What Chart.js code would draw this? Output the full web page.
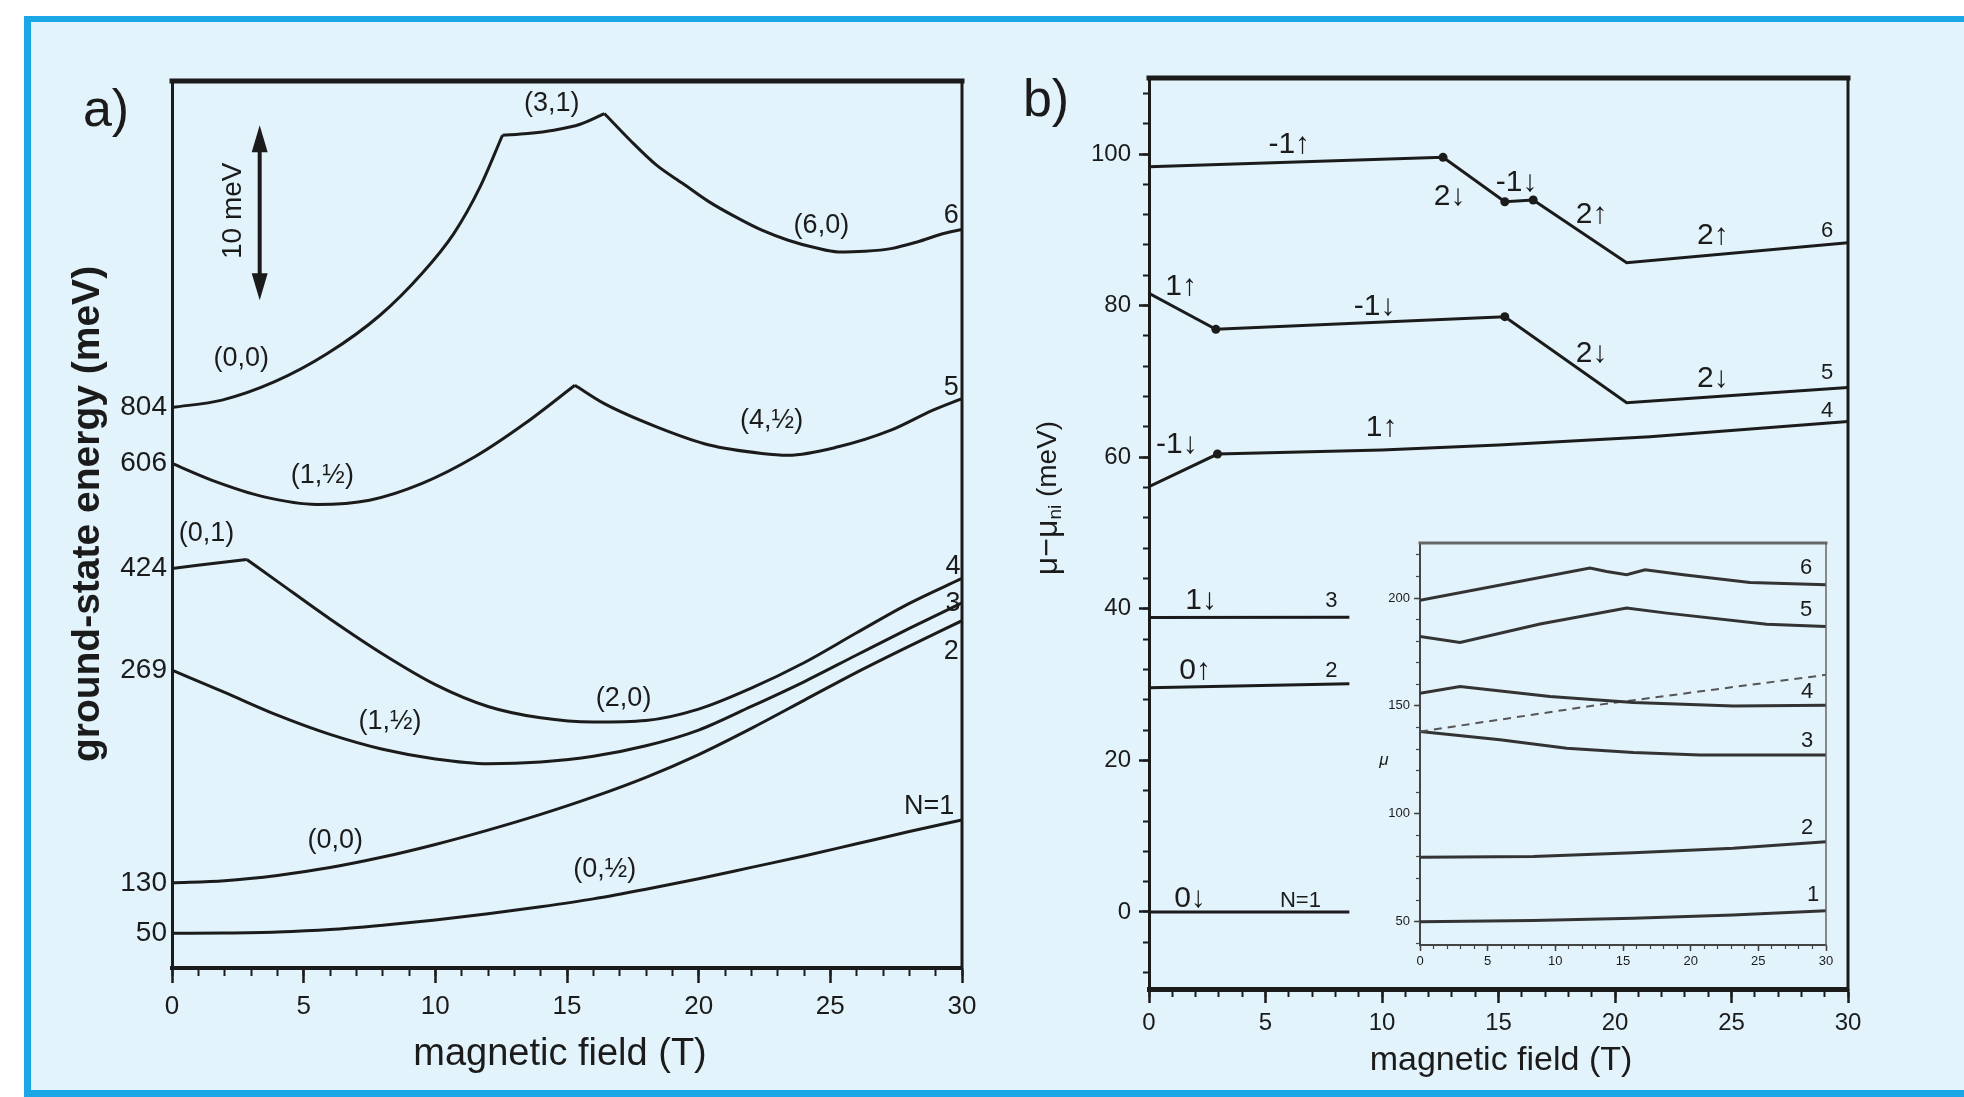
<!DOCTYPE html>
<html>
<head>
<meta charset="utf-8">
<title>Ground-state energy and chemical potential vs magnetic field</title>
<script src="https://cdn.jsdelivr.net/npm/chart.js@4.4.1/dist/chart.umd.min.js"></script>
<style>
  html, body { margin: 0; padding: 0; background: #ffffff; }
  body { width: 1964px; height: 1097px; position: relative; overflow: hidden; }
  #frame {
    position: absolute; left: 24px; top: 16px; width: 1940px; height: 1081px;
    box-sizing: border-box; background: #e2f3fb;
    border-left: 7px solid #1ba6e8; border-top: 6px solid #1ba6e8; border-bottom: 7px solid #1ba6e8;
  }
  canvas { position: absolute; }
  #panelA { left: 0; top: 0; }
  #panelB { left: 1000px; top: 0; }
  #inset { left: 1340px; top: 500px; }
</style>
</head>
<body>
<div id="frame"></div>
<canvas id="panelA" width="1000" height="1097"></canvas>
<canvas id="panelB" width="964" height="1097"></canvas>
<canvas id="inset" width="520" height="500"></canvas>
<script>
const INK = '#1b1b1b'
const FONT = '"Liberation Sans", Arial, sans-serif'

// ---- panel a: ground-state energy (meV, each N shifted), field in T ----
const fieldA = [0, 2, 4, 6, 8, 10, 12, 14, 16, 18, 20, 22, 24, 26, 28, 30]
const energyN1 = [1.98, 2.00, 2.06, 2.20, 2.45, 2.75, 3.10, 3.50, 3.95, 4.50, 5.10, 5.75, 6.40, 7.10, 7.80, 8.46]
const energyN2 = [4.87, 4.99, 5.29, 5.74, 6.34, 7.06, 7.88, 8.78, 9.78, 10.90, 12.20, 13.70, 15.30, 16.90, 18.40, 19.85]
const energyN3 = [17.03, 15.75, 14.45, 13.35, 12.50, 11.95, 11.68, 11.78, 12.10, 12.70, 13.60, 14.95, 16.36, 17.89, 19.41, 20.87]
// N=4: (0,1) then (2,0)
const fieldN4a = [0, 2.84]
const energyN4a = [22.84, 23.35]
const fieldN4b = [2.84, 4, 6, 8, 10, 12, 14, 16, 18, 20, 22, 24, 26, 28, 30]
const energyN4b = [23.35, 22.1, 19.95, 17.95, 16.2, 14.95, 14.3, 14.06, 14.15, 14.8, 16.0, 17.45, 19.16, 20.84, 22.27]
// N=5: (1,1/2) then (4,1/2)
const fieldN5a = [0, 1.5, 3.5, 5.5, 7.5, 9.5, 11.5, 13.4, 15.3]
const energyN5a = [28.84, 27.89, 26.93, 26.5, 26.74, 27.7, 29.22, 31.12, 33.31]
const fieldN5b = [15.3, 16.4, 18.4, 20.4, 22.4, 23.4, 25.3, 27.3, 28.9, 30]
const energyN5b = [33.31, 32.27, 30.93, 29.89, 29.41, 29.31, 29.79, 30.74, 31.89, 32.55]
// N=6: (0,0), (3,1), (6,0)
const fieldN6a = [0, 1.9, 3.9, 5.9, 7.9, 9.5, 10.7, 11.7, 12.55]
const energyN6a = [32.04, 32.46, 33.51, 35.12, 37.31, 39.71, 41.98, 44.65, 47.6]
const fieldN6b = [12.55, 13.5, 14.5, 15.5, 16.42]
const energyN6b = [47.6, 47.7, 47.89, 48.23, 48.84]
const fieldN6c = [16.42, 17.4, 18.4, 19.4, 20.4, 21.4, 22.4, 23.4, 24.4, 25.3, 26.3, 27.3, 28.3, 29.3, 30]
const energyN6c = [48.84, 47.31, 45.89, 44.84, 43.79, 42.93, 42.17, 41.6, 41.18, 40.93, 40.97, 41.12, 41.5, 41.98, 42.21]

const startEnergy = [1.98, 4.87, 17.03, 22.84, 28.84, 32.04]
const startLabel = ['50', '130', '269', '424', '606', '804']

const scaleBarField = 3.33
const scaleBarFrom = 38.17
const scaleBarSize = 10

const notesA = [
  ['(0,0)', 2.63, 34.86], ['(3,1)', 14.42, 49.43], ['(6,0)', 24.66, 42.46],
  ['6', 29.59, 43.03], ['5', 29.59, 33.2], ['(1,½)', 5.71, 28.17], ['(4,½)', 22.77, 31.31],
  ['(0,1)', 1.31, 24.86], ['(2,0)', 17.15, 15.43], ['(1,½)', 8.28, 14.06],
  ['(0,0)', 6.2, 7.31], ['(0,½)', 16.43, 5.6], ['N=1', 28.75, 9.2],
  ['4', 29.66, 22.97], ['3', 29.66, 20.86], ['2', 29.59, 18.06]
]

// ---- panel b: mu - mu_ni (meV) ----
const fieldB6 = [0, 12.62, 15.27, 16.49, 20.5, 30]
const muB6 = [98.33, 99.56, 93.71, 93.93, 85.66, 88.3]
const fieldB5 = [0, 2.87, 15.27, 20.5, 30]
const muB5 = [81.62, 76.87, 78.54, 67.2, 69.2]
const fieldB4 = [0, 2.94, 10, 15, 21.5, 30]
const muB4 = [56.1, 60.42, 60.95, 61.6, 62.7, 64.7]
const fieldBshort = [0, 8.6]
const muB3 = [38.85, 38.9]
const muB2 = [29.6, 30.1]
const muB1 = [0, 0]
const kinksB6 = [1, 2, 3]
const kinksB5 = [1, 2]
const kinksB4 = [1]

const spinNotesB = [
  ['-1↑', 6.02, 101.2], ['2↓', 12.9, 94.3], ['-1↓', 15.78, 96.2], ['2↑', 19.0, 92.0], ['2↑', 24.2, 89.2],
  ['1↑', 1.38, 82.5], ['-1↓', 9.68, 79.8], ['2↓', 19.0, 73.7], ['2↓', 24.2, 70.3],
  ['-1↓', 1.2, 61.6], ['1↑', 9.98, 63.9],
  ['1↓', 2.24, 41.0], ['0↑', 1.98, 31.8], ['0↓', 1.76, 1.7]
]
const indexNotesB = [
  ['6', 29.1, 89.8], ['5', 29.1, 71.1], ['4', 29.1, 66.1],
  ['3', 7.83, 41.0], ['2', 7.83, 31.8], ['N=1', 6.5, 1.45]
]

// ---- inset: mu ----
const insetField6 = [0, 12.56, 13.79, 15.27, 16.63, 19.46, 24.38, 30]
const insetMu6 = [198.9, 213.9, 212.3, 210.8, 213.1, 210.8, 207.2, 206.2]
const insetField5 = [0, 2.96, 8.87, 15.27, 18.23, 25.62, 30]
const insetMu5 = [182.2, 179.4, 188.0, 195.4, 193.0, 187.9, 186.8]
const insetField4 = [0, 2.96, 9.61, 15.76, 23.15, 30]
const insetMu4 = [155.9, 159.0, 154.4, 151.6, 150.0, 150.3]
const insetFieldDash = [0, 13.3, 30]
const insetMuDash = [138.1, 150.6, 164.4]
const insetField3 = [0, 5.91, 10.84, 15.76, 20.69, 30]
const insetMu3 = [138.1, 134.3, 130.4, 128.4, 127.3, 127.3]
const insetField12 = [0, 8.37, 15.76, 23.15, 30]
const insetMu2 = [79.9, 80.2, 82.0, 84.0, 87.1]
const insetMu1 = [50.0, 50.5, 51.6, 53.1, 55.1]
const insetNotes = [['6', 28.53, 214.1], ['5', 28.53, 194.6], ['4', 28.6, 156.7], ['3', 28.6, 133.9], ['2', 28.6, 93.6], ['1', 29.05, 62.4]]


function pts(xs, ys) {
  return xs.map((x, i) => ({ x: x, y: ys[i] }))
}

function smoothCurve(xs, ys) {
  return {
    data: pts(xs, ys), borderColor: INK, borderWidth: 3, pointRadius: 0,
    cubicInterpolationMode: 'monotone', xAxisID: 'x', yAxisID: 'y'
  }
}

function brokenLine(xs, ys, kinks, color, width) {
  return {
    data: pts(xs, ys), borderColor: color || INK, borderWidth: width || 3, tension: 0,
    pointRadius: xs.map((_, i) => (kinks || []).includes(i) ? 4.5 : 0),
    pointBackgroundColor: INK, pointBorderWidth: 0,
    xAxisID: 'x', yAxisID: 'y'
  }
}

// ticks on whole multiples of step inside [min, max]
function stepTicks(step) {
  return s => {
    const out = []
    for (let k = Math.ceil(s.min / step - 1e-9); k * step <= s.max + 1e-9; k++) {
      out.push({ value: k * step })
    }
    s.ticks = out
  }
}

const intLabel = v => String(Math.round(v))

// major + minor axis pair, minor one takes no room
function axes(o) {
  return {
    x: {
      type: 'linear', axis: 'x', position: 'bottom', weight: 1, min: o.xmin, max: o.xmax,
      afterBuildTicks: stepTicks(o.xstep),
      ticks: { callback: intLabel, color: INK, font: { family: FONT, size: o.xfont }, padding: o.xpad, maxRotation: 0, autoSkip: false },
      grid: { drawOnChartArea: false, tickLength: o.xtick, tickWidth: o.tickW, tickColor: o.axisColor },
      border: { color: o.axisColor, width: o.bottomW },
      afterFit: s => { s.height = o.xheight }
    },
    xm: {
      type: 'linear', axis: 'x', position: 'bottom', weight: 0, min: o.xmin, max: o.xmax,
      afterBuildTicks: stepTicks(o.xminor),
      ticks: { display: false },
      grid: { drawOnChartArea: false, tickLength: o.xtickMinor, tickWidth: o.tickW * 0.8, tickColor: o.axisColor },
      border: { display: false },
      afterFit: s => { s.height = 0 }
    },
    y: {
      type: 'linear', axis: 'y', position: 'left', weight: 1, min: o.ymin, max: o.ymax,
      afterBuildTicks: stepTicks(o.ystep),
      ticks: { callback: intLabel, color: INK, font: { family: FONT, size: o.yfont }, padding: o.ypad, autoSkip: false },
      grid: { drawOnChartArea: false, tickLength: o.ytick, tickWidth: o.tickW, tickColor: o.axisColor },
      border: { color: o.axisColor, width: o.leftW },
      afterFit: s => { s.width = o.ywidth }
    },
    ym: {
      type: 'linear', axis: 'y', position: 'left', weight: 0, min: o.ymin, max: o.ymax,
      afterBuildTicks: stepTicks(o.yminor),
      ticks: { display: false },
      grid: { drawOnChartArea: false, tickLength: o.ytickMinor, tickWidth: o.tickW * 0.8, tickColor: o.axisColor },
      border: { display: false },
      afterFit: s => { s.width = 0 }
    }
  }
}

function framePlugin(topW, rightW, color) {
  return {
    id: 'frameLines',
    afterDraw(chart) {
      const { ctx, chartArea: a } = chart
      ctx.save()
      ctx.strokeStyle = color
      ctx.lineCap = 'square'
      ctx.lineWidth = topW
      ctx.beginPath(); ctx.moveTo(a.left, a.top); ctx.lineTo(a.right, a.top); ctx.stroke()
      ctx.lineWidth = rightW
      ctx.beginPath(); ctx.moveTo(a.right, a.top); ctx.lineTo(a.right, a.bottom); ctx.stroke()
      ctx.restore()
    }
  }
}

function notesPlugin(id, notes, font) {
  return {
    id: id,
    afterDatasetsDraw(chart) {
      const { ctx, scales } = chart
      ctx.save()
      ctx.fillStyle = INK
      ctx.font = font
      ctx.textAlign = 'center'
      ctx.textBaseline = 'middle'
      notes.forEach(n => {
        ctx.fillText(n[0], scales.x.getPixelForValue(n[1]), scales.y.getPixelForValue(n[2]))
      })
      ctx.restore()
    }
  }
}

const baseOptions = {
  responsive: false, animation: false, devicePixelRatio: 1,
  plugins: { legend: { display: false }, tooltip: { enabled: false } },
  elements: { line: { fill: false } }
}

// ---------- panel a ----------
const decorA = {
  id: 'decorA',
  afterDraw(chart) {
    const { ctx, scales } = chart
    ctx.save()
    ctx.fillStyle = INK
    ctx.strokeStyle = INK
    ctx.textAlign = 'center'
    ctx.textBaseline = 'middle'
    ctx.font = `52px ${FONT}`
    ctx.fillText('a)', 106, 112)
    ctx.font = `38px ${FONT}`
    ctx.fillText('magnetic field (T)', 560, 1055)
    ctx.save()
    ctx.translate(88, 514)
    ctx.rotate(-Math.PI / 2)
    ctx.font = `bold 39px ${FONT}`
    ctx.fillText('ground-state energy (meV)', 0, 0)
    ctx.restore()

    // 10 meV scale bar
    const ax = scales.x.getPixelForValue(scaleBarField)
    const top = scales.y.getPixelForValue(scaleBarFrom + scaleBarSize)
    const bot = scales.y.getPixelForValue(scaleBarFrom)
    ctx.lineWidth = 4
    ctx.beginPath(); ctx.moveTo(ax, top + 20); ctx.lineTo(ax, bot - 20); ctx.stroke()
    ctx.beginPath(); ctx.moveTo(ax, top); ctx.lineTo(ax - 8, top + 27); ctx.lineTo(ax + 8, top + 27); ctx.closePath(); ctx.fill()
    ctx.beginPath(); ctx.moveTo(ax, bot); ctx.lineTo(ax - 8, bot - 27); ctx.lineTo(ax + 8, bot - 27); ctx.closePath(); ctx.fill()
    ctx.save()
    ctx.translate(ax - 26, (top + bot) / 2 - 2)
    ctx.rotate(-Math.PI / 2)
    ctx.font = `28px ${FONT}`
    ctx.fillText('10 meV', 0, 0)
    ctx.restore()
    ctx.restore()
  }
}

const scalesA = axes({
  xmin: 0, xmax: 30, xstep: 5, xminor: 1, xfont: 26, xpad: 8, xtick: 15, xtickMinor: 8, xheight: 90,
  ymin: 0, ymax: 50.7, ystep: 10, yminor: 10, yfont: 28, ypad: 5, ytick: 0, ytickMinor: 0, ywidth: 172,
  tickW: 2.5, axisColor: INK, bottomW: 4, leftW: 3
})
scalesA.y.afterBuildTicks = s => { s.ticks = startEnergy.map(v => ({ value: v })) }
scalesA.y.ticks.callback = (v, i) => startLabel[i]
scalesA.y.grid = { display: false, drawTicks: false }
scalesA.ym.display = false

new Chart(document.getElementById('panelA'), {
  type: 'line',
  data: {
    datasets: [
      smoothCurve(fieldA, energyN1), smoothCurve(fieldA, energyN2), smoothCurve(fieldA, energyN3),
      smoothCurve(fieldN4a, energyN4a), smoothCurve(fieldN4b, energyN4b),
      smoothCurve(fieldN5a, energyN5a), smoothCurve(fieldN5b, energyN5b),
      smoothCurve(fieldN6a, energyN6a), smoothCurve(fieldN6b, energyN6b), smoothCurve(fieldN6c, energyN6c)
    ]
  },
  options: Object.assign({}, baseOptions, {
    layout: { padding: { left: 0, top: 81, right: 38, bottom: 39 } },
    scales: scalesA
  }),
  plugins: [framePlugin(5, 3, INK), notesPlugin('notesA', notesA, `27px ${FONT}`), decorA]
})

// ---------- panel b ----------
const decorB = {
  id: 'decorB',
  afterDraw(chart) {
    const ctx = chart.ctx
    ctx.save()
    ctx.fillStyle = INK
    ctx.textAlign = 'center'
    ctx.textBaseline = 'middle'
    ctx.font = `52px ${FONT}`
    ctx.fillText('b)', 46, 102)
    ctx.font = `34px ${FONT}`
    ctx.fillText('magnetic field (T)', 501, 1061)

    ctx.translate(48, 498)
    ctx.rotate(-Math.PI / 2)
    const parts = [['μ−μ', `32px ${FONT}`, 0], ['ni', `19px ${FONT}`, 8], [' (meV)', `28px ${FONT}`, 0]]
    let total = 0
    parts.forEach(p => { ctx.font = p[1]; total += ctx.measureText(p[0]).width })
    let px = -total / 2
    ctx.textAlign = 'left'
    parts.forEach(p => {
      ctx.font = p[1]
      ctx.fillText(p[0], px, p[2])
      px += ctx.measureText(p[0]).width
    })
    ctx.restore()
  }
}

new Chart(document.getElementById('panelB'), {
  type: 'line',
  data: {
    datasets: [
      brokenLine(fieldB6, muB6, kinksB6), brokenLine(fieldB5, muB5, kinksB5), brokenLine(fieldB4, muB4, kinksB4),
      brokenLine(fieldBshort, muB3), brokenLine(fieldBshort, muB2), brokenLine(fieldBshort, muB1)
    ]
  },
  options: Object.assign({}, baseOptions, {
    layout: { padding: { left: 0, top: 78, right: 116, bottom: 38 } },
    scales: axes({
      xmin: 0, xmax: 30, xstep: 5, xminor: 1, xfont: 24, xpad: 6, xtick: 14, xtickMinor: 8, xheight: 70,
      ymin: -10.16, ymax: 110.03, ystep: 20, yminor: 4, yfont: 24, ypad: 8, ytick: 10, ytickMinor: 6, ywidth: 149,
      tickW: 2.5, axisColor: INK, bottomW: 5, leftW: 3
    })
  }),
  plugins: [
    framePlugin(5, 3, INK),
    notesPlugin('spinB', spinNotesB, `30px ${FONT}`),
    notesPlugin('indexB', indexNotesB, `22px ${FONT}`),
    decorB
  ]
})

// ---------- inset ----------
const INSET_INK = '#333333'
const decorInset = {
  id: 'decorInset',
  afterDraw(chart) {
    const ctx = chart.ctx
    ctx.save()
    ctx.fillStyle = INK
    ctx.textAlign = 'center'
    ctx.textBaseline = 'middle'
    ctx.font = `italic 17px ${FONT}`
    ctx.fillText('μ', 44, 260)
    ctx.restore()
  }
}

const dashed = brokenLine(insetFieldDash, insetMuDash, [], '#555555', 2)
dashed.borderDash = [8, 6]

new Chart(document.getElementById('inset'), {
  type: 'line',
  data: {
    datasets: [
      brokenLine(insetField6, insetMu6, [], INSET_INK, 3), brokenLine(insetField5, insetMu5, [], INSET_INK, 3),
      brokenLine(insetField4, insetMu4, [], INSET_INK, 3), dashed,
      brokenLine(insetField3, insetMu3, [], INSET_INK, 3), brokenLine(insetField12, insetMu2, [], INSET_INK, 3),
      brokenLine(insetField12, insetMu1, [], INSET_INK, 3)
    ]
  },
  options: Object.assign({}, baseOptions, {
    layout: { padding: { left: 0, top: 43, right: 34, bottom: 20 } },
    scales: axes({
      xmin: 0, xmax: 30, xstep: 5, xminor: 1, xfont: 13, xpad: 3, xtick: 6, xtickMinor: 4, xheight: 35,
      ymin: 39.2, ymax: 225.5, ystep: 50, yminor: 10, yfont: 13, ypad: 4, ytick: 6, ytickMinor: 4, ywidth: 80,
      tickW: 1.5, axisColor: '#444444', bottomW: 2, leftW: 2
    })
  }),
  plugins: [framePlugin(3, 1.5, '#666666'), notesPlugin('notesInset', insetNotes, `22px ${FONT}`), decorInset]
})
</script>
</body>
</html>
